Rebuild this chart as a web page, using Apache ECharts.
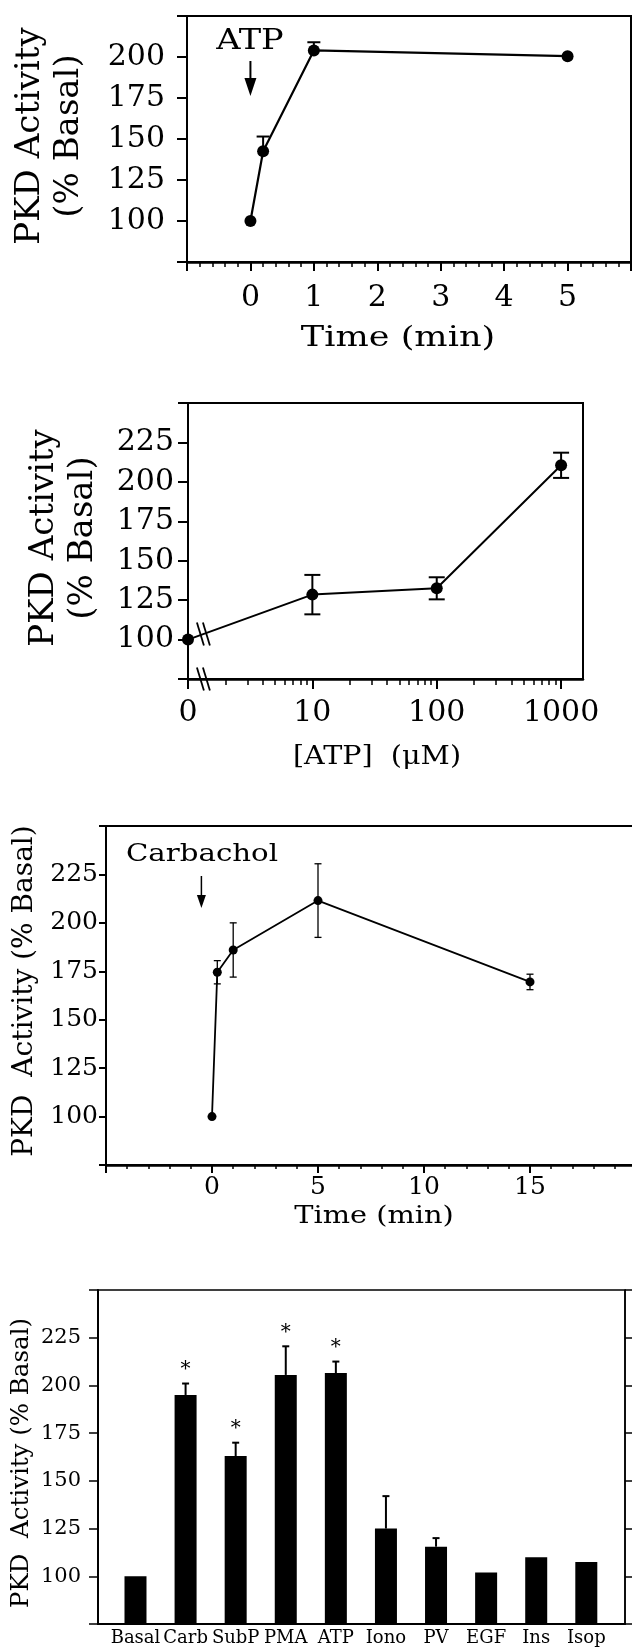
<!DOCTYPE html>
<html>
<head>
<meta charset="utf-8">
<script src="https://cdn.jsdelivr.net/npm/echarts@6/dist/echarts.min.js"></script>
<style>
html,body{margin:0;padding:0;background:#fff;}
#c{width:632px;height:1649px;}
</style>
</head>
<body>
<div id="c"></div>
<script>
// ---------- Panel 1: ATP time course ----------
const p1Time  = [0, 0.2, 1, 5];
const p1Value = [100, 142.5, 204, 200.5];
const p1Err   = [0, 9, 5, 0];
const p1XTicks = [0, 1, 2, 3, 4, 5];
const p1YTicks = [100, 125, 150, 175, 200];

// ---------- Panel 2: ATP dose response ----------
const p2Dose  = [0, 10, 100, 1000];
const p2Value = [100, 128.5, 132.5, 210.5];
const p2Err   = [0, 12.5, 7, 8];
const p2XTicks = [0, 10, 100, 1000];
const p2XMinor = [2,3,4,5,6,7,8,9,20,30,40,50,60,70,80,90,200,300,400,500,600,700,800,900];
const p2YTicks = [100, 125, 150, 175, 200, 225];

// ---------- Panel 3: Carbachol time course ----------
const p3Time  = [0, 0.25, 1, 5, 15];
const p3Value = [100, 174.5, 186, 211.5, 169.5];
const p3Err   = [0, 6, 14, 19, 4];
const p3XTicks = [0, 5, 10, 15];
const p3YTicks = [100, 125, 150, 175, 200, 225];

// ---------- Panel 4: agonists ----------
const p4Cats  = ['Basal','Carb','SubP','PMA','ATP','Iono','PV','EGF','Ins','Isop'];
const p4Value = [100, 195, 163, 205.5, 206.5, 125, 115.5, 102, 110, 107.5];
const p4Err   = [0, 6, 7, 15, 6, 17, 4.5, 0, 0, 0];
const p4Star  = [0, 1, 1, 1, 1, 0, 0, 0, 0, 0];
const p4YTicks = [100, 125, 150, 175, 200, 225];

const K = '#000';
const FONT = '"DejaVu Serif", serif';
const doseToAxis = d => (d === 0 ? 1 : d);          // "0" drawn at the axis break
const axisToDose = v => (Math.round(v) === 1 ? 0 : Math.round(v));

function clean(o) {
  if (Array.isArray(o)) return o.map(clean);
  if (o && typeof o === 'object') {
    const r = {};
    for (const k in o) if (o[k] !== undefined) r[k] = clean(o[k]);
    return r;
  }
  return o;
}

function mkAxis(grid, o) {
  return clean({
    gridIndex: grid, type: o.type || 'value', position: o.position, show: o.show,
    min: o.min, max: o.max, interval: o.interval, logBase: o.logBase, data: o.data,
    splitLine: { show: false },
    axisLine: { show: o.line !== false, onZero: false, lineStyle: { color: K, width: o.lineW || 2 } },
    axisTick: { show: o.tick !== false, inside: false, length: o.tickLen || 8, customValues: o.tickValues,
                lineStyle: { color: K, width: o.tickW || 2 } },
    minorTick: { show: !!o.minor, splitNumber: o.minor || 5, length: o.minorLen || 4,
                 lineStyle: { color: K, width: o.minorW || 1.5 } },
    axisLabel: { show: o.label !== false, customValues: o.labelValues, formatter: o.formatter,
                 color: K, fontFamily: FONT, fontSize: o.fontSize, margin: o.margin, interval: o.labelInterval,
                 hideOverlap: false }
  });
}

function errData(xs, vs, es, extra) {
  return xs.map((x, i) => extra ? [x, vs[i], es[i], extra[i]] : [x, vs[i], es[i]]).filter(d => d[2] > 0);
}

function errorRenderer(capHalf, width, twoSided, withStar) {
  return function (params, api) {
    const x = api.value(0), v = api.value(1), e = api.value(2);
    const top = api.coord([x, v + e]);
    const bot = api.coord([x, twoSided ? v - e : v]);
    const st = { stroke: K, lineWidth: width };
    const ch = [
      { type: 'line', shape: { x1: top[0], y1: top[1], x2: bot[0], y2: bot[1] }, style: st },
      { type: 'line', shape: { x1: top[0] - capHalf, y1: top[1], x2: top[0] + capHalf, y2: top[1] }, style: st }
    ];
    if (twoSided) ch.push({ type: 'line', shape: { x1: bot[0] - capHalf, y1: bot[1], x2: bot[0] + capHalf, y2: bot[1] }, style: st });
    if (withStar && api.value(3)) {
      ch.push({ type: 'text', x: top[0], y: top[1] - 14,
        style: { text: '*', fill: K, font: '20px ' + FONT, align: 'center', verticalAlign: 'middle' } });
    }
    return { type: 'group', children: ch };
  };
}

const gridBase = { show: true, borderColor: K, backgroundColor: 'transparent', outerBoundsMode: 'none', containLabel: false };

const option = {
  animation: false,
  backgroundColor: '#fff',
  textStyle: { fontFamily: FONT, color: K },
  grid: [
    Object.assign({}, gridBase, { left: 187, top: 16, width: 444, height: 246, borderWidth: 2 }),
    Object.assign({}, gridBase, { left: 188, top: 403, width: 395, height: 276, borderWidth: 2 }),
    Object.assign({}, gridBase, { left: 106, top: 826, width: 530, height: 339, borderWidth: 2 }),
    Object.assign({}, gridBase, { left: 98, top: 1290, width: 527, height: 334, borderWidth: 1.5 }),
    { show: false, left: 110.45, top: 1290, width: 500.9, height: 334, outerBoundsMode: 'none', containLabel: false }
  ],
  xAxis: [
    mkAxis(0, { min: -1, max: 6, interval: 1, position: 'bottom', lineW: 2.5, tickLen: 9, minor: 5, minorLen: 5,
                labelValues: p1XTicks, fontSize: 30, margin: 21 }),
    mkAxis(1, { type: 'log', logBase: 10, min: 1, max: 1500, position: 'bottom', lineW: 2.5, tickLen: 10,
                tickValues: p2XTicks.map(doseToAxis), labelValues: p2XTicks.map(doseToAxis),
                formatter: v => String(axisToDose(v)), fontSize: 30, margin: 19 }),
    mkAxis(1, { type: 'log', logBase: 10, min: 1, max: 1500, position: 'bottom', line: false, tickLen: 6, tickW: 1.5,
                tickValues: p2XMinor, label: false }),
    mkAxis(2, { min: -5, max: 20, interval: 5, position: 'bottom', lineW: 2.5, tickLen: 8, minor: 5, minorLen: 4,
                labelValues: p3XTicks, fontSize: 25, margin: 10 }),
    mkAxis(3, { min: 0, max: 1, position: 'bottom', lineW: 2, tick: false, label: false }),
    mkAxis(4, { type: 'category', data: p4Cats, position: 'bottom', line: false, tick: false,
                fontSize: 18, margin: 5, labelInterval: 0 })
  ],
  yAxis: [
    mkAxis(0, { min: 75, max: 225, interval: 25, position: 'left', lineW: 2, tickLen: 10,
                labelValues: p1YTicks, fontSize: 30, margin: 22 }),
    mkAxis(1, { min: 75, max: 250, interval: 25, position: 'left', lineW: 2, tickLen: 10,
                labelValues: p2YTicks, fontSize: 30, margin: 14 }),
    mkAxis(2, { min: 75, max: 250, interval: 25, position: 'left', lineW: 2, tickLen: 7,
                labelValues: p3YTicks, fontSize: 25, margin: 8 }),
    mkAxis(3, { min: 75, max: 250, interval: 25, position: 'left', lineW: 2, tickLen: 9, tickW: 1.5,
                labelValues: p4YTicks, fontSize: 21, margin: 17 }),
    mkAxis(3, { min: 75, max: 250, interval: 25, position: 'right', lineW: 1.5, tickLen: 7, tickW: 1.5, label: false }),
    mkAxis(4, { min: 75, max: 250, line: false, tick: false, label: false, show: false })
  ],
  series: [
    { type: 'line', xAxisIndex: 0, yAxisIndex: 0, data: p1Time.map((t, i) => [t, p1Value[i]]),
      symbol: 'circle', symbolSize: 12, itemStyle: { color: K }, lineStyle: { color: K, width: 2.2 }, z: 3 },
    { type: 'custom', xAxisIndex: 0, yAxisIndex: 0, data: errData(p1Time, p1Value, p1Err),
      renderItem: errorRenderer(6.5, 2, false, false), z: 4 },
    { type: 'line', xAxisIndex: 1, yAxisIndex: 1, data: p2Dose.map((d, i) => [doseToAxis(d), p2Value[i]]),
      symbol: 'circle', symbolSize: 12, itemStyle: { color: K }, lineStyle: { color: K, width: 2 }, z: 3 },
    { type: 'custom', xAxisIndex: 1, yAxisIndex: 1, data: errData(p2Dose.map(doseToAxis), p2Value, p2Err),
      renderItem: errorRenderer(8, 2, true, false), z: 4 },
    { type: 'line', xAxisIndex: 3, yAxisIndex: 2, data: p3Time.map((t, i) => [t, p3Value[i]]),
      symbol: 'circle', symbolSize: 9, itemStyle: { color: K }, lineStyle: { color: K, width: 1.8 }, z: 3 },
    { type: 'custom', xAxisIndex: 3, yAxisIndex: 2, data: errData(p3Time, p3Value, p3Err),
      renderItem: errorRenderer(3.5, 1.3, true, false), z: 4 },
    { type: 'bar', xAxisIndex: 5, yAxisIndex: 5, data: p4Value, barWidth: 22, itemStyle: { color: K }, z: 3 },
    { type: 'custom', xAxisIndex: 5, yAxisIndex: 5,
      data: errData(p4Cats.map((c, i) => i), p4Value, p4Err, p4Star),
      renderItem: errorRenderer(3.5, 2, false, true), z: 4 }
  ]
};

const chart = echarts.init(document.getElementById('c'), null, { renderer: 'canvas' });
chart.setOption(option);

// ---------- annotations (titles, arrows, axis-break marks) ----------
function txt(text, x, y, size, opts) {
  opts = opts || {};
  return clean({
    type: 'text', x: x, y: y, rotation: opts.rot, scaleX: opts.sx, z: 50,
    style: { text: text, fill: K, font: size + 'px ' + FONT, align: 'center', verticalAlign: 'middle',
             lineHeight: opts.lh }
  });
}
function arrow(x, y0, y1, headW, headH, w) {
  return [
    { type: 'line', z: 50, shape: { x1: x, y1: y0, x2: x, y2: y1 - headH + 2 }, style: { stroke: K, lineWidth: w } },
    { type: 'polygon', z: 50, shape: { points: [[x - headW / 2, y1 - headH], [x + headW / 2, y1 - headH], [x, y1]] }, style: { fill: K } }
  ];
}
function slashes(cx, cy) {
  const out = [];
  [-3, 3].forEach(off => out.push({ type: 'line', z: 50,
    shape: { x1: cx + off - 3.5, y1: cy - 11.5, x2: cx + off + 3.5, y2: cy + 11.5 },
    style: { stroke: K, lineWidth: 1.8 } }));
  return out;
}

const a1x = chart.convertToPixel({ seriesIndex: 0 }, [0, 100])[0];
const a3x = chart.convertToPixel({ seriesIndex: 4 }, [-0.5, 100])[0];
const pA = chart.convertToPixel({ seriesIndex: 2 }, [doseToAxis(p2Dose[0]), p2Value[0]]);
const pB = chart.convertToPixel({ seriesIndex: 2 }, [doseToAxis(p2Dose[1]), p2Value[1]]);
const brk = chart.convertToPixel({ seriesIndex: 2 }, [1.33, 75]);
const brkLineY = pA[1] + (brk[0] - pA[0]) / (pB[0] - pA[0]) * (pB[1] - pA[1]);

const graphic = [
  // panel 1
  txt('PKD Activity\n(% Basal)', 49.5, 136, 34, { rot: Math.PI / 2, lh: 38.5 }),
  txt('ATP', 250, 42, 28, { sx: 1.2 }),
  txt('Time (min)', 398, 339, 27, { sx: 1.3 }),
  ...arrow(a1x, 61, 96, 12, 18, 2),
  // panel 2
  txt('PKD Activity\n(% Basal)', 63.5, 538, 34, { rot: Math.PI / 2, lh: 39 }),
  txt('[ATP]  (\u03bcM)', 377, 757, 26, { sx: 1.1 }),
  ...slashes(brk[0], brkLineY),
  ...slashes(brk[0], brk[1]),
  // panel 3
  txt('PKD  Activity (% Basal)', 25, 991, 28, { rot: Math.PI / 2 }),
  txt('Carbachol', 202, 854, 25, { sx: 1.17 }),
  txt('Time (min)', 374, 1217, 24, { sx: 1.2 }),
  ...arrow(a3x, 876, 908, 9, 13, 1.5),
  // panel 4
  txt('PKD  Activity (% Basal)', 22, 1463, 24.5, { rot: Math.PI / 2 })
];
chart.setOption({ graphic: graphic });
</script>
</body>
</html>
